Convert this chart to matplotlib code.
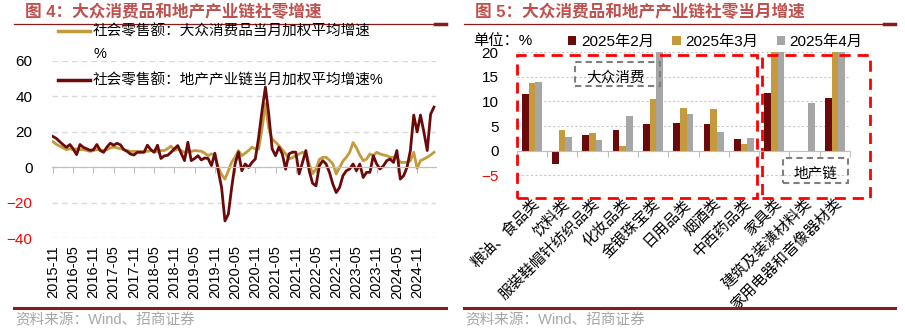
import numpy as np
import pandas as pd
import matplotlib
matplotlib.use('Agg')
import matplotlib.pyplot as plt
from matplotlib.lines import Line2D
from matplotlib.patches import Rectangle

plt.rcParams['font.family'] = ['Liberation Sans', 'Noto Sans CJK SC']

# ---- left chart data: monthly, 2015-11 .. 2025-04
months = pd.date_range('2015-11-01', periods=114, freq='MS')
consumer = [14.5, 13, 12, 11, 10, 10.5, 10, 10.5, 10, 10,
            9.5, 9, 9.5, 10, 10, 9.5, 10, 11, 11.5, 11,
            10.5, 10, 9.5, 9, 9, 9, 9, 9, 9, 9.5,
            9, 9, 9.5, 9.5, 10.5, 12, 9.5,
            10.4, 9.5, 8.5, 8.6, 9, 9.5, 9.3, 9.1, 8, 6.6,
            7.6, 7, 0, -4, -6.6, -1.9, 3, 5.7, 9.5, 6.6,
            8, 9.5, 11.4, 10.4, 10.4, 21.8, 36, 22, 16, 14.2,
            12.3, 10, 7.6, 4.7, 5.5, 6.6, 7.6, 8.5,
            8, 2, -3.5, -1, 4.5, 5.7, 5.7, 4, 2, -3.8,
            0, 3.5, 5.7, 8.5, 14, 11, 7, 3.8, 4.7, 7.6,
            6.6, 8.5, 7.6, 7, 6.6, 5.7, 5.7, 5.5, 2.8, 2.8,
            2.8, 3.8, 8.5, -0.5, 3.8, 4.7, 5.7, 7, 8.5]
property_chain = [17.4, 16.3, 14.5, 12.8, 11.3, 12.9, 10.4, 7.2, 12.9, 11.3,
                  10.5, 9.6, 10.0, 12.9, 9.5, 8.5, 11.5, 13.6, 12.5, 13.6,
                  12.7, 10.0, 9.0, 7.5, 7.0, 8.5, 8.5, 8.5, 12.5, 10.0,
                  8.5, 12.5, 5.0, 6.5, 6.8, 8.5, 10.5,
                  12.3, 8, 3.8, 14.2, 3.8, 5, 6.6, 4.2, 5.3, 5,
                  1.0, 8.0, -1.9, -11.3, -30.2, -26.4, -11.3, 1.9, 8.6, -1.9,
                  1.9, 0, 2.8, 4.7, 17, 32, 45.3, 30, 10.4, 6.6,
                  11.4, 7.6, -1, 7.6, 8.6, 8.6, -3.7, 2.8, 9.5, -2,
                  -9, -10.4,
                  0.9, 3.8, 1.9, -2.8, -9.4, -14.2, -11.3, -4.7, -1.9, -0.9,
                  1.9, -1.9, 1.9, -5.7, -2.8, -2.8,
                  6.6, 1.9, -0.9, 0.9, 3.8, 4.7, 2.8, 9.5, -6.6, -4.7,
                  0, 9.5, 29.5, 20, 29.5, 20, 9.5, 30, 34]
consumer_label = '社会零售额：大众消费品当月加权平均增速'
property_label = '社会零售额：地产产业链当月加权平均增速%'

# ---- right chart data
categories = ['粮油、食品类', '饮料类', '服装鞋帽针纺织品类', '化妆品类', '金银珠宝类',
              '日用品类', '烟酒类', '中西药品类', '家具类', '建筑及装潢材料类',
              '家用电器和音像器材类']
feb = [11.5, -2.7, 3.2, 4.3, 5.4, 5.6, 5.4, 2.4, 11.7, np.nan, 10.8]
mar = [13.7, 4.3, 3.5, 1.0, 10.6, 8.7, 8.5, 1.3, 29.5, np.nan, 35.1]
apr = [14.0, 2.85, 2.1, 7.1, 25.3, 7.5, 3.9, 2.5, 26.9, 9.6, 38.8]
series_names = ['2025年2月', '2025年3月', '2025年4月']

GOLD = '#C49A3C'
DARK = '#6B0A0A'
GRAY = '#A6A6A6'
TITLE_C = '#C0504D'
RULE_C = '#8B1A1A'

W, H = 905, 331
fig = plt.figure(figsize=(W / 100, H / 100), dpi=100)


def fx(px):
    return px / W


def fy(py):
    return 1 - py / H


# ---- headers / footers
for x0, x1, title in [(14, 446, '图 4：大众消费品和地产产业链社零增速'),
                      (464, 895, '图 5：大众消费品和地产产业链社零当月增速')]:
    fig.text(fx(x0 + 11), fy(12), title, color=TITLE_C, fontsize=12,
             fontweight='bold', va='center')
    fig.add_artist(Line2D([fx(x0), fx(x1)], [fy(23.5), fy(23.5)], color=RULE_C, lw=0.9))
    fig.add_artist(Line2D([fx(x1 - 11), fx(x1)], [fy(24), fy(24)], color=RULE_C, lw=2.5))
    fig.add_artist(Line2D([fx(x0), fx(x1)], [fy(308), fy(308)], color=RULE_C, lw=2.2))
    fig.text(fx(x0 + 1), fy(320), '资料来源：Wind、招商证券', color='#A6A6A6',
             fontsize=10.5, va='center')

# ---- left: line chart
ax1 = fig.add_axes([fx(52), fy(238.3), (436 - 52) / W, (238.3 - 61) / H])
x = np.arange(len(months))
ax1.plot(x, consumer, color=GOLD, lw=2)
ax1.plot(x, property_chain, color=DARK, lw=2)
ax1.set_xlim(-0.3, 113.6)
ax1.set_ylim(-40, 60)
ax1.set_yticks([-40, -20, 0, 20, 40, 60])
ax1.yaxis.grid(True, color='#D9D9D9', lw=1, ls=(0, (4, 3)))
ax1.set_axisbelow(True)
for s in ['top', 'right', 'left']:
    ax1.spines[s].set_visible(False)
ax1.spines['bottom'].set_position(('data', 0))
ax1.spines['bottom'].set_color('#BFBFBF')
ax1.set_xticks(x[::6], [d.strftime('%Y-%m') for d in months[::6]], rotation=90)
ax1.tick_params(axis='x', direction='out', length=4, color='#BFBFBF', pad=52,
                labelsize=10.5)
ax1.tick_params(axis='y', length=0, pad=14, labelsize=11)
for lab, v in zip(ax1.get_yticklabels(), [-40, -20, 0, 20, 40, 60]):
    lab.set_color('red' if v < 0 else 'black')

# legend (handle sits on first text line, as in the original)
fig.add_artist(Line2D([fx(58), fx(90)], [fy(31), fy(31)], color=GOLD, lw=2.5))
fig.text(fx(93), fy(31), consumer_label, va='center', fontsize=10.5)
fig.text(fx(93), fy(54), '%', va='center', fontsize=10.5)
fig.add_artist(Line2D([fx(58), fx(90)], [fy(80), fy(80)], color=DARK, lw=2.5))
fig.text(fx(93), fy(80), property_label, va='center', fontsize=10.5)

# ---- right: grouped bars
ax2 = fig.add_axes([fx(516.7), fy(192.5), (850 - 516.7) / W, (192.5 - 52.3) / H])
pos = np.arange(len(categories))
bw = 0.22
bars = []
for k, (vals, col) in enumerate(zip([feb, mar, apr], [DARK, GOLD, GRAY])):
    bars.append(ax2.bar(pos + (k - 1) * bw, vals, bw, color=col, label=series_names[k]))
ax2.set_xlim(-0.5, 10.5)
ax2.set_ylim(-8.5, 20)
ax2.set_yticks([-5, 0, 5, 10, 15, 20])
ax2.yaxis.grid(True, color='#C8C8C8', lw=0.8, ls=(0, (2, 2)))
ax2.set_axisbelow(True)
for s in ['top', 'right', 'left']:
    ax2.spines[s].set_visible(False)
ax2.spines['bottom'].set_position(('data', 0))
ax2.spines['bottom'].set_color('#BFBFBF')
ax2.set_xticks(np.arange(-0.5, 11, 1), [''] * 12)
ax2.set_xticks(pos, categories, minor=True, rotation=45, ha='right',
               rotation_mode='anchor')
ax2.tick_params(axis='x', which='major', direction='out', length=4, color='#BFBFBF')
ax2.tick_params(axis='x', which='minor', length=0, pad=33, labelsize=10.8)
ax2.tick_params(axis='y', length=0, pad=13, labelsize=11)
for lab, v in zip(ax2.get_yticklabels(), [-5, 0, 5, 10, 15, 20]):
    lab.set_color('red' if v < 0 else 'black')

fig.text(fx(473), fy(41), '单位：%', va='center', fontsize=11)
ax2.legend(handles=bars, loc='center left', bbox_to_anchor=(fx(568), fy(42)),
           bbox_transform=fig.transFigure, ncol=3, frameon=False,
           handlelength=0.55, handleheight=0.55, handletextpad=0.3,
           columnspacing=1.2, fontsize=11, borderpad=0, borderaxespad=0)

# annotation boxes
ax2.add_patch(Rectangle((-0.5, -9.6), 7.92, 29.05, fill=False, ec='red', lw=2,
                        ls=(0, (4, 2.5)), clip_on=False))
ax2.add_patch(Rectangle((7.59, -9.6), 3.58, 29.05, fill=False, ec='red', lw=2,
                        ls=(0, (4, 2.5)), clip_on=False))
ax2.add_patch(Rectangle((1.42, 13.15), 2.81, 4.85, fill=False, ec='#7F7F7F', lw=1.5,
                        ls=(0, (3, 2)), clip_on=False))
ax2.text(2.75, 14.9, '大众消费', ha='center', va='center', fontsize=10.5)
ax2.add_patch(Rectangle((8.29, -6.56), 2.15, 5.08, fill=False, ec='#7F7F7F', lw=1.5,
                        ls=(0, (3, 2)), clip_on=False))
ax2.text(9.35, -4.6, '地产链', ha='center', va='center', fontsize=10.5)

fig.savefig('out.png', dpi=100)
